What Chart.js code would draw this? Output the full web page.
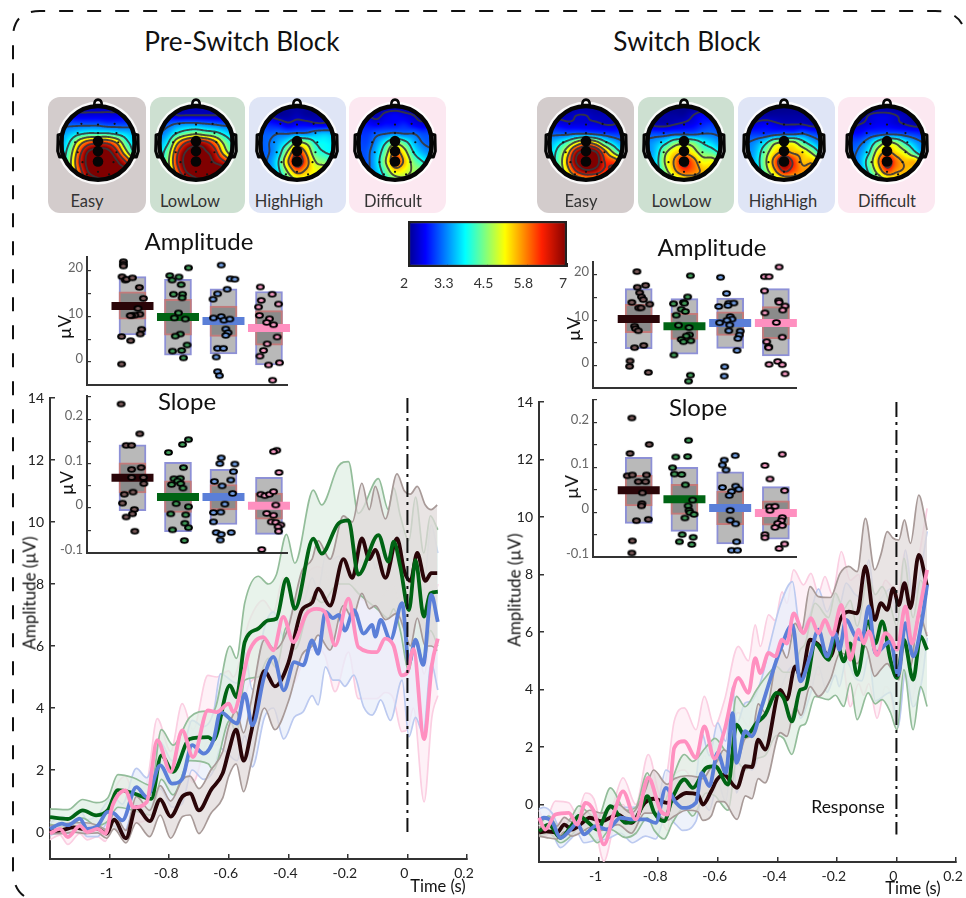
<!DOCTYPE html>
<html><head><meta charset="utf-8">
<script src="https://cdn.jsdelivr.net/npm/chart.js@4"></script>
<style>
html,body{margin:0;padding:0;background:#fff;width:966px;height:898px;overflow:hidden;font-family:Lato,"Noto Sans",sans-serif}
#page{position:relative;width:966px;height:898px;overflow:hidden}
canvas{position:absolute;pointer-events:none}
.t{position:absolute;white-space:nowrap;color:#111;transform:translate(-50%,-50%)}
.p{position:absolute;border-radius:12px}
svg{position:absolute;left:0;top:0}
</style></head><body><div id="page">
<svg width="966" height="898"><path d="M 24 896 Q 13 888 13 870 L 13 38 Q 13 11 40 11 L 935 11 Q 955 11 962 24" fill="none" stroke="#111" stroke-width="2" stroke-dasharray="14 14"/></svg>
</div>
<script>
// ---------- condition names and colours ----------
const conditions=['Easy','LowLow','HighHigh','Difficult'];
const meanColors=['#2a0508','#006414','#5b7fd8','#ff90c0'];
const boundColors=['#a89a98','#93bd9a','#bccaf0','#fbcfe2'];
const bandColors=['rgba(224,218,218,.72)','rgba(222,238,227,.7)','rgba(232,237,250,.75)','rgba(253,236,244,.75)'];
const dotColors=['#7a5a5a','#3f9a58','#6f9ce0','#f59ac2'];
const panelColors=['#d3cccc','#cde0d1','#dfe5f6','#fce8f1'];
// ---------- axis ticks ----------
const timeTicks=[-1.2,-1,-0.8,-0.6,-0.4,-0.2,0,0.2];
const timeLabels=['','-1','-0.8','-0.6','-0.4','-0.2','0','0.2'];
const ampTicks=[14,12,10,8,6,4,2,0];
const insetAmpTicks=[20,15,10,5,0];
const insetAmpLabels=['20','','10','','0'];
const insetSlopeTicks=[0.25,0.2,0.15,0.1,0.05,0,-0.05,-0.1];
const insetSlopeLabels=['','0.2','','0.1','','0','','-0.1'];
const colorTicks=[2,3.25,4.5,5.75,7];
const colorLabels=['2','3.3','4.5','5.8','7'];
const jetStops=[[2,'#00008b'],[2.55,'#0000ff'],[3.8,'#00ffff'],[5.05,'#ffff00'],[6.2,'#ff2000'],[7,'#7f0000']];
// ---------- ERP traces: [time, mean, upper, lower] ----------
const easyLeft=[[-1.2,.03,.2,-.05],[-1.16,.06,.25,-.05],[-1.12,.15,.3,0],[-1.08,.08,.3,-.05],[-1.04,.1,.22,-.03],[-1.01,-.05,.08,-.2],[-.985,.4,.6,.1],[-.945,-.2,.05,-.35],[-.91,.8,1.15,.3],[-.865,.35,.7,-.15],[-.83,1.05,1.5,.55],[-.795,.5,1,-.2],[-.755,1.15,1.7,.5],[-.73,1.25,1.8,.55],[-.7,.7,1.4,-.05],[-.66,1.35,2,.6],[-.62,1.9,2.6,1.1],[-.6,2.6,3.4,1.8],[-.575,3.3,3.9,2.2],[-.55,2.3,3.2,1.3],[-.525,3.2,4.2,2.2],[-.48,5.2,6.2,4],[-.445,4.7,5.9,3.3],[-.4,5.45,6.6,4.2],[-.355,7.15,8.4,5.7],[-.32,7.4,8.8,6],[-.3,7.85,9.4,6.35],[-.26,7.3,8.8,5.87],[-.215,8.8,10.2,7.3],[-.185,8.2,10,6.9],[-.153,9.47,11.25,7.7],[-.128,8.8,10.4,7.2],[-.108,9.1,11.15,7.3],[-.074,8.2,10.1,6.85],[-.035,9.47,11.55,7.05],[-.01,8.4,11,6.5],[.01,8.1,10.9,6],[.033,9,11.15,6.9],[.06,8.1,10.55,6],[.08,8.35,10.4,6],[.1,8.35,10.55,5.85]];
const lowLeft=[[-1.2,.48,.75,.25],[-1.14,.42,.72,.15],[-1.09,.7,1.05,.45],[-1.045,.54,.95,.2],[-1.006,.7,1.1,.35],[-.972,1.35,1.85,.8],[-.92,1.25,1.75,.7],[-.86,1.07,1.5,.55],[-.826,2.47,3.3,1.7],[-.787,1.94,2.8,1.2],[-.731,3,3.7,2.3],[-.669,3.06,3.9,2.2],[-.652,2.96,3.9,2],[-.596,4.73,6,3.6],[-.574,4.35,5.6,3.2],[-.546,6.13,7.4,4.9],[-.501,6.56,8.25,5],[-.467,6.83,8,5.6],[-.44,6.88,8.3,5.3],[-.406,8.17,9.6,6.6],[-.378,7.2,8.67,5.9],[-.316,9.46,11.03,7.6],[-.288,8.98,10.55,7.4],[-.232,9.95,11.8,8],[-.198,10.05,11.95,8],[-.165,8.3,10.28,7.7],[-.0975,9.58,11.4,7.16],[-.064,8.72,10.4,6.9],[-.046,9.37,11.1,7.2],[-.024,8.56,10.2,6.5],[.005,7.16,9.4,5.2],[.027,8.77,10.8,6.25],[.055,6.95,9,5.44],[.077,7.7,10.2,6.5],[.102,7.75,9.75,6]];
const highLeft=[[-1.2,.1,.3,-.1],[-1.16,.27,.5,0],[-1.14,.22,.45,-.05],[-1.1,.43,.7,.1],[-1.075,.1,.4,-.15],[-1.04,.2,.55,-.15],[-1.006,.65,1,.3],[-.985,.6,1.1,.2],[-.957,.38,.9,-.1],[-.91,1.45,2.05,.9],[-.875,1.13,1.75,.6],[-.83,2.15,2.9,1.4],[-.79,1.56,2.3,.8],[-.757,1.7,2.5,.9],[-.723,2.8,3.6,2],[-.684,2.53,3.4,1.7],[-.65,3,3.9,2],[-.628,3.87,5.1,2.7],[-.572,3.5,4.8,2.3],[-.546,4.46,5.8,3.1],[-.521,3.44,4.6,2.1],[-.48,5.05,6.6,3.7],[-.45,5.65,7.1,4],[-.415,4.57,6.3,3],[-.38,5.48,7.3,3.7],[-.35,5.38,7.4,3.88],[-.32,6.18,8.2,4.4],[-.3,5.75,7.8,4.1],[-.275,7.1,8.9,5.33],[-.25,6.9,8.8,4.9],[-.23,7,8.9,4.9],[-.21,6.5,8.4,4.7],[-.18,7.16,8.9,5.06],[-.147,6.4,8.7,4.04],[-.118,6.68,8.9,3.77],[-.108,6.3,8.5,3.9],[-.09,6.84,9,4.26],[-.057,6.2,8.6,3.6],[-.018,7.38,9.74,4.9],[.005,5.44,8,3.07],[.027,6.2,8.6,3.7],[.053,5.39,7.8,3.18],[.08,7.65,9.9,5.44],[.102,6.78,9,4.58]];
const diffLeft=[[-1.2,-.05,.15,-.25],[-1.167,.1,.3,-.1],[-1.14,-.16,.05,-.4],[-1.1,.2,.45,-.05],[-1.075,0,.25,-.25],[-1.04,.1,.4,-.15],[-1.014,-.05,.3,-.3],[-.99,.86,1.2,.5],[-.947,1.34,1.8,.85],[-.92,.8,1.3,.3],[-.875,.97,1.6,.4],[-.84,2.96,3.66,2.2],[-.795,1.94,2.6,1.3],[-.756,3.28,4.14,2.4],[-.72,2.42,3.3,1.6],[-.67,3.92,5.05,2.9],[-.64,3.87,5,2.8],[-.6,4.14,5.2,3.1],[-.585,3.87,5,2.8],[-.53,5.86,6.84,4.8],[-.484,6.29,7.47,5],[-.45,5.86,7.1,4.6],[-.417,6.94,8.2,5.6],[-.383,6.13,7.5,4.8],[-.339,7.04,8.3,5.8],[-.305,7.2,8.55,5.9],[-.277,7.1,8.4,5.7],[-.243,6.02,7.6,4.53],[-.198,7.53,8.9,5.8],[-.165,5.97,7.6,4.3],[-.103,5.8,7.4,4.3],[-.075,6.24,7.7,4.5],[-.047,6.02,7.96,4.3],[-.019,5.05,6.9,3.24],[0,5.16,7,3.3],[.02,5.9,7.6,4],[.056,3,5.1,.97],[.082,5.38,7,3.7],[.102,6.24,8,4.4]];
const easyRight=[[-1.2,-.98,-.8,-1.1],[-1.175,-.93,-.7,-1.15],[-1.14,-.98,-.75,-1.2],[-1.115,-.7,-.45,-.95],[-1.09,-.87,-.6,-1.1],[-1.055,-.64,-.4,-.95],[-1.03,-.46,-.2,-.8],[-.99,-.58,-.3,-.9],[-.935,-.35,0,-.7],[-.89,-.64,-.3,-1],[-.845,.06,.45,-.3],[-.815,.2,1.2,-.3],[-.77,.06,.7,-.55],[-.745,.17,.9,-.4],[-.705,.4,1,-.2],[-.667,.35,.95,-.25],[-.65,0,.9,-.55],[-.622,.46,1.3,-.4],[-.602,.87,1.5,.1],[-.58,1.04,1.9,.1],[-.535,.58,1.5,-.52],[-.507,1.33,2.3,.3],[-.485,1.3,2.4,.2],[-.464,2.26,3.5,.9],[-.441,1.91,3.2,.75],[-.39,3.99,5.5,2.5],[-.368,3.65,5.1,2.37],[-.34,4.8,6.3,3.4],[-.32,4.4,6,3.1],[-.29,5.73,7.58,4.1],[-.262,5.56,7.23,3.76],[-.222,5.15,7.2,4.34],[-.189,6.42,8.04,5.27],[-.16,6.71,8.28,5.15],[-.132,6.65,8.1,4.9],[-.104,8.28,9.95,5.5],[-.073,6.42,8.16,4.46],[-.052,7,8.7,4.7],[-.031,6.77,9.49,4.9],[-.011,7.52,9.26,4.6],[.008,6.94,9.2,4.34],[.027,7.7,9.9,5.5],[.047,6.83,9.08,4.8],[.075,8.68,10.76,6.65],[.103,7.58,9.55,5.85]];
const lowRight=[[-1.2,-.93,-.7,-1.1],[-1.167,-.7,-.4,-1],[-1.128,-1.16,-.9,-1.33],[-1.089,-.7,-.4,-1.05],[-1.066,-.4,-.05,-.8],[-1.033,-.64,-.3,-1],[-1.004,-.87,-.5,-1.33],[-.96,-.06,.58,-.87],[-.909,-.64,-.2,-1.15],[-.875,-.52,-.1,-1],[-.836,.29,1.1,-.46],[-.813,-.29,.4,-.9],[-.78,-.58,.1,-1.2],[-.752,.23,.9,-.64],[-.712,.87,1.74,-.1],[-.684,.58,1.5,-.4],[-.639,1.27,2,.4],[-.609,1.33,2.3,.3],[-.565,.69,1.8,-.2],[-.537,2.78,3.76,1.5],[-.508,2.37,3.4,1.2],[-.469,2.84,4,1.6],[-.441,3.12,4.4,1.7],[-.402,3.88,4.8,2.4],[-.379,3.7,4.6,2.3],[-.351,2.89,4.6,1.74],[-.323,3.99,5.38,2.72],[-.306,4.05,5.6,2.8],[-.273,5.6,7,3.76],[-.228,5.03,6.5,3.65],[-.205,5.85,7.35,3.8],[-.177,4.98,6.8,3.41],[-.155,5.6,7.1,4.22],[-.132,4.5,6.2,2.95],[-.095,6.37,7.9,3.88],[-.071,5.6,7.3,3.5],[-.048,6.37,7.58,3.65],[-.02,5.03,6.9,3.2],[.002,4.4,6.2,2.6],[.025,5.73,8.56,4.69],[.056,4.34,6.5,2.6],[.081,5.85,7.8,4.1],[.103,5.38,7.3,3.41]];
const highRight=[[-1.2,-.55,-.15,-.9],[-1.184,-.46,-.1,-.85],[-1.156,-.6,-.3,-1],[-1.128,-1.16,-.85,-1.5],[-1.094,-.87,-.55,-1.2],[-1.072,-.65,-.35,-1],[-1.049,-1.04,-.7,-1.33],[-1.01,-.75,-.35,-1.25],[-.971,-.87,-.45,-1.2],[-.926,-.46,-.1,-1],[-.886,-.52,-.1,-1.33],[-.842,-.52,-.05,-1.1],[-.808,-.64,-.15,-1.2],[-.774,.58,1.2,-.4],[-.74,.06,.9,-.7],[-.718,-.12,.75,-.9],[-.673,.06,.95,-.58],[-.654,1.1,2.5,.1],[-.628,.64,1.7,-.2],[-.6,1.8,2.84,.75],[-.573,1.1,2.2,.1],[-.55,3.18,4.1,1.9],[-.537,1.45,2.8,.4],[-.508,2.55,3.53,1.4],[-.486,2.37,3.6,1.2],[-.452,3.41,4.4,2.1],[-.424,4.34,5.6,3],[-.39,5.38,6.94,4],[-.349,6.25,7.75,4.8],[-.323,4.28,6.1,3],[-.29,5.15,6.6,3.8],[-.262,6.08,7.5,4.8],[-.233,5.15,6.7,3.9],[-.205,5.96,7.3,4.5],[-.192,5.38,6.9,4.1],[-.169,6.42,7.7,5],[-.138,5.85,7.3,4.4],[-.116,5.73,7.2,4.3],[-.093,6.89,8.5,5.2],[-.071,5.27,7,3.6],[-.02,5.67,7.5,3.9],[.006,4.51,6.4,2.7],[.03,6.31,8.85,4.6],[.056,5.15,7.2,3.4],[.086,6.42,8.4,4.34],[.103,7.64,9.5,5.8]];
const diffRight=[[-1.2,-.46,-.2,-.7],[-1.179,-.87,-.55,-1.1],[-1.145,-.35,.12,-.7],[-1.1,-.29,.06,-.6],[-1.072,-.7,-.35,-1.05],[-1.044,.06,.4,-.35],[-1.016,-.23,.2,-.6],[-.982,-1.39,-.98,-1.97],[-.948,-.29,.1,-.7],[-.918,.46,.93,0],[-.875,-.52,0,-1.04],[-.833,.93,1.74,.4],[-.791,-.23,.29,-.52],[-.769,-.35,1.16,-.9],[-.746,1.97,2.9,1],[-.712,2.2,3.36,1.2],[-.673,1.62,2.6,.7],[-.645,2.72,3.76,1.7],[-.611,1.6,2.72,.6],[-.578,2.55,3.6,1.4],[-.531,4.4,5.5,3.2],[-.497,3.88,5,2.7],[-.474,5.09,6.25,3.9],[-.457,4.57,5.5,3.4],[-.429,5.27,6.6,4],[-.407,5.15,6.4,3.9],[-.384,5.73,7.4,4.2],[-.368,5.6,7,4.2],[-.345,6.65,8.16,5.1],[-.312,5.96,7.64,4.3],[-.287,6.48,8.04,4.9],[-.262,5.96,7.35,4.5],[-.24,6.42,7.93,4.9],[-.215,5.9,7.3,4.4],[-.185,6.94,8.8,5.2],[-.155,5.03,7.8,3.4],[-.127,6.08,8,4.2],[-.11,5.6,7.4,3.8],[-.093,6.02,7.8,4.2],[-.065,5.2,7,3],[-.037,5.96,7.8,4.1],[-.018,5.79,7.6,3.8],[.002,5.38,7.2,2.6],[.03,6.89,8.85,4.6],[.052,5.6,7.4,3.7],[.075,6.65,8.6,4.8],[.103,8.16,10.3,6]];
// ---------- inset boxes ----------
const ampLeftOuter=[[5.93,18.75],[1.5,18.2],[1.8,16.1],[-.66,15.5]];
const ampLeftInner=[[9.4,15.4],[5.9,13.8],[5.6,12.3],[3.7,11.3]];
const ampLeftMean=[12.3,9.9,9,7.5];
const slopeLeftOuter=[[-.006,.142],[-.053,.103],[-.037,.087],[-.059,.069]];
const slopeLeftInner=[[.034,.102],[-.01,.061],[-.004,.053],[-.025,.034]];
const slopeLeftMean=[.068,.025,.025,.005];
const ampRightOuter=[[3.8,16.9],[2.6,14.7],[3.85,14.8],[2.2,16.9]];
const ampRightInner=[[7.3,13.45],[5.8,11.5],[6.7,11.85],[5.96,12.95]];
const ampRightMean=[10.25,8.7,9.4,9.4];
const slopeRightOuter=[[-.025,.122],[-.043,.1],[-.071,.09],[-.06,.057]];
const slopeRightInner=[[.014,.082],[-.005,.062],[-.028,.047],[-.029,.025]];
const slopeRightMean=[.049,.029,.009,-.002];
// ---------- inset subject dots: [jittered position, value] ----------
const ampLeftDots=[
[[.8,22.05],[.8,21.5],[.8,21.1],[.77,18.75],[.84,18],[.87,18.2],[1,18.5],[1.15,16.4],[1.24,14],[1.12,11.8],[1.16,10.5],[1.05,10.3],[.98,10.2],[.95,10.2],[1.2,7.2],[1.17,6.15],[.76,5.6],[.96,4.7],[.76,-.45]],
[[1.82,19],[2.02,18.7],[1.87,18],[2.23,20.7],[2.07,17],[1.9,14.9],[2.1,14.9],[2.09,14.1],[2.01,10.8],[1.92,9.7],[2.16,9.45],[2.05,6.15],[1.94,5.7],[2.2,3.75],[1.88,2.4],[2.08,2.55],[2.12,.9]],
[[2.95,21.3],[3.15,18.3],[3.25,18.2],[3.08,16],[2.87,15],[2.77,13.8],[2.78,9.7],[2.95,10],[3.01,9.2],[3.14,9.45],[3.05,7.25],[3.1,6.45],[3.05,5.85],[2.87,3],[3,3],[2.84,1.1],[2.87,-2.1],[2.91,-3]],
[[3.81,16.5],[4.07,14.9],[3.83,13.55],[4.21,12.75],[3.77,12.1],[3.79,10.25],[4.01,9.5],[3.95,8.7],[4.1,8.2],[4.18,5.5],[3.96,4],[3.88,2.55],[3.8,1.3],[3.99,-.65],[4.23,-.15],[4.08,-4]]];
const slopeLeftDots=[
[[.75,.234],[1.16,.167],[.86,.141],[.98,.141],[1.19,.091],[.98,.087],[.98,.069],[1.24,.069],[1.25,.055],[1.01,.036],[.82,.031],[.78,.011],[1.04,-.003],[1,-.013],[.86,-.02],[1.05,-.052]],
[[1.79,.125],[2.23,.154],[2.1,.143],[2.12,.091],[1.91,.066],[2.05,.067],[1.99,.061],[1.86,.053],[2.06,.055],[2.11,.045],[1.96,.01],[2.23,.003],[1.84,-.013],[2.17,-.015],[2.15,-.034],[2.23,-.044],[1.88,-.049],[2.14,-.073]],
[[2.95,.113],[2.92,.1],[3.25,.099],[3.22,.082],[3.16,.063],[2.8,.06],[2.97,.05],[3.2,.033],[3.03,.009],[2.78,-.01],[2.94,-.009],[2.78,-.031],[2.84,-.055],[2.95,-.059],[2.93,-.072],[3.17,-.055]],
[[4.17,.13],[4.1,.127],[4.22,.08],[3.82,.031],[3.91,.028],[4.01,.031],[4.1,.037],[4.15,.007],[3.95,-.012],[4.1,-.016],[4.05,-.031],[4.15,-.032],[4.26,-.038],[4.2,-.042],[4.21,-.052],[3.84,-.093]]];
const ampRightDots=[
[[.96,20.6],[1.15,17.6],[.97,17.2],[1.02,16],[1.06,15.1],[1.1,14.5],[.85,13.9],[1.24,13.5],[1,12.7],[1.05,12.7],[.91,8.7],[.93,8.15],[.99,7.7],[1.11,4.5],[.91,4],[.81,1.1],[.8,-.07],[1.21,-1.4]],
[[2.13,19.7],[2.07,15.1],[1.76,13.6],[1.98,13.9],[2,13.7],[1.93,12.4],[2.02,11.9],[1.82,11.1],[1.87,8.9],[2.1,8.4],[2.11,6.8],[2.04,6.55],[1.93,5.8],[1.98,5.3],[2.14,5.5],[1.77,2.4],[2.13,-2],[2.09,-3.3]],
[[2.79,19.35],[2.92,15.85],[2.75,13],[2.97,13.7],[3.08,13.75],[2.95,13.2],[3,10.8],[3.04,10.25],[2.93,10],[2.77,9.45],[2.99,8.95],[2.97,7.7],[3.22,7.6],[3.2,6.75],[3.17,6],[3.15,3.4],[2.88,-.15],[2.87,-2.2]],
[[4.07,21.6],[3.75,19.5],[3.85,19.5],[3.75,16.4],[4.06,14.25],[4.07,13.9],[4.2,13.1],[4.15,12.2],[3.76,11.6],[4.01,9.5],[3.8,5.3],[4.14,6.3],[3.84,4.2],[3.84,4],[3.85,.36],[4.04,1],[4.14,.3],[4.2,-1.7]]];
const slopeRightDots=[
[[.85,.21],[1.23,.151],[.81,.131],[.75,.081],[.86,.083],[1.17,.083],[.99,.068],[1.15,.068],[1.08,.043],[1.07,.019],[1.06,.014],[.95,-.019],[1.21,-.016],[.86,-.064],[.85,-.091]],
[[2.09,.16],[1.81,.123],[2.07,.124],[1.74,.099],[1.78,.085],[1.94,.084],[2.02,.061],[2.18,.027],[2.08,.014],[2.1,.004],[2.12,-.001],[2.21,-.005],[2.01,-.013],[1.95,-.05],[2.19,-.056],[1.89,-.066],[2.16,-.072]],
[[3.11,.126],[2.87,.116],[2.83,.105],[2.91,.094],[2.83,.055],[3.12,.058],[3.19,.051],[3.03,.046],[2.98,.037],[3,.004],[3,-.018],[3.12,-.026],[3.14,-.066],[3.03,-.085],[3.16,-.085]],
[[3.76,.104],[4.14,.129],[3.87,.074],[4.19,.048],[3.86,.012],[3.98,.013],[3.87,.004],[4.14,-.012],[4.12,-.019],[4.04,-.025],[4.14,-.03],[3.98,-.034],[3.76,-.05],[3.76,-.057],[4.19,-.071],[4.07,-.081]]];
// ---------- scalp maps: coarse value grids, rows from front (top) to back ----------
const topoEasyLeft=[[2.2,2.2,2.2,2.2,2.2,2.2,2.2,2.2,2.2],[2.6,2.5,2.4,2.4,2.4,2.4,2.4,2.5,2.6],[3,3,3,3,3,2.9,2.9,2.9,3],[3.3,3.5,3.8,4,4,4,3.8,3.6,3.4],[3.4,4,5.2,6,6.2,6.2,5.5,4.2,3.6],[3.5,4.4,6,7.2,7.5,7.4,6.5,5,3.8],[3.6,4.6,6.3,7.4,7.8,7.6,7.2,6.3,5],[3.6,4.5,6,7.2,7.6,7.5,7.3,7.2,6],[3.5,4.2,5.5,6.6,7,7,7,6.5,5.5]];
const topoLowLeft=[[2.2,2.2,2.2,2.2,2.2,2.2,2.2,2.2,2.2],[2.6,2.5,2.3,2.3,2.3,2.3,2.3,2.3,2.4],[2.9,3,3.2,3.3,3.3,3.2,3.1,3,3],[3.1,3.4,4,4.4,4.6,4.4,4.2,3.8,3.5],[3.4,3.9,5.4,6.4,6.8,6.6,5.8,4.6,3.9],[3.6,4.4,6.2,7.2,7.4,7.2,6.6,5.2,4.2],[3.6,4.6,6.4,7.4,7.6,7.6,7,6.4,5.5],[3.6,4.4,6,7.2,7.6,7.8,7.8,7.4,6.4],[3.5,4.1,5.2,6.4,7,7,7,6.5,5.5]];
const topoHighLeft=[[2.1,2.1,2.1,2.1,2.1,2.1,2.1,2.1,2.1],[2.4,2.3,2.1,2.1,2.2,2.1,2.1,2.2,2.4],[2.8,2.7,2.6,2.4,2.5,2.5,2.4,2.4,2.6],[3,3,3.1,3.1,3.2,3.2,3.4,3.5,3.4],[3,3.1,3.4,3.9,4.8,4.6,3.9,3.8,3.7],[3,3.1,3.6,4.8,6.2,5.4,4.2,3.9,3.8],[3,3.2,3.9,5.4,6.8,5.8,4.7,4.4,4.2],[3,3.2,3.8,4.8,5.8,5.4,5,5,4.4],[2.9,3.1,3.5,4.2,4.8,4.9,4.9,4.6,4.2]];
const topoDiffLeft=[[2.1,2.1,2.1,2.1,2.1,2.1,2.1,2.1,2.1],[2.4,2.3,2.2,2.4,2.5,2.4,2.3,2.2,2.4],[2.7,2.6,2.5,2.6,2.6,2.7,2.5,2.4,2.6],[2.8,2.8,3,3.1,3.2,3.1,3.1,2.9,2.9],[2.9,2.9,3.3,3.9,4.6,4.2,3.5,3.1,3],[2.9,3,3.5,4.4,5.7,5,3.9,3.4,3.2],[2.9,3,3.6,4.7,6,5.4,4.4,3.9,3.6],[2.9,3,3.5,4.3,5.2,5,4.6,4.4,3.8],[2.9,3,3.3,3.9,4.4,4.6,4.4,4,3.5]];
const topoEasyRight=[[2.1,2.1,2.1,2.1,2.1,2.1,2.1,2.1,2.1],[2.2,2.2,2.2,2.3,2.3,2.2,2.2,2.2,2.2],[2.6,2.5,2.4,2.4,2.4,2.4,2.3,2.3,2.5],[3,3,3,3.1,3.1,3,2.9,2.8,2.8],[3.4,3.7,4.2,5,5.6,5.2,4.2,3.6,3.2],[3.6,4.1,5.2,6.8,7.4,7.2,5.8,4.6,3.8],[3.6,4.2,5.6,7.2,7.8,7.6,6.3,6,5.4],[3.5,4.1,5.2,6.4,7,6.8,6.2,6.3,5.8],[3.3,3.7,4.4,5,5.4,5.4,5.4,5.2,4.8]];
const topoLowRight=[[2,2,2,2,2,2,2,2,2],[2.1,2.1,2.1,2.1,2.1,2.3,2.5,2.4,2.4],[2.3,2.2,2.2,2.3,2.4,2.5,2.7,2.8,2.7],[2.9,2.9,2.9,3,3,3,3.1,3.1,3],[3.2,3.4,3.8,4.4,4.6,4.4,3.9,3.6,3.3],[3.2,3.6,4.6,5.2,5.4,5,4.4,4.2,3.8],[3.3,3.7,4.8,5.6,6.4,5.8,5,5,4.6],[3.2,3.6,4.5,5.4,6,5.8,5.4,5.2,4.6],[3,3.3,3.9,4.6,5,5.2,5.2,4.8,4.2]];
const topoHighRight=[[2,2,2,2,2,2,2,2,2],[2.1,2.1,2.1,2.1,2.1,2.1,2.1,2.1,2.1],[2.2,2.4,2.5,2.4,2.3,2.3,2.3,2.2,2.2],[2.8,2.8,2.8,2.9,3,3,3.1,2.9,2.8],[3.1,3.3,3.8,4.6,4.8,4.9,4.2,3.6,3.2],[3.2,3.5,4.4,5.2,5.6,5.4,5.2,4.6,3.8],[3.2,3.6,4.6,5.8,7,6.2,5.4,5.4,5],[3.2,3.5,4.4,5.4,6.4,6,5.6,5.6,5],[3,3.3,3.8,4.5,5,5.2,5.2,5,4.2]];
const topoDiffRight=[[2,2,2,2,2,2,2,2,2],[2.1,2.1,2.3,2.4,2.4,2.3,2.2,2.1,2.1],[2.2,2.3,2.4,2.5,2.5,2.4,2.3,2.2,2.2],[2.6,2.6,2.8,2.9,3,3,2.9,2.8,2.7],[2.9,3,3.4,4.2,4.8,4.6,3.9,3.4,3.1],[3,3.2,3.8,5,5.6,5.2,4.8,4,3.3],[3,3.3,4.2,5.4,6.6,5.8,5.4,5.4,4.6],[2.9,3.2,4,5,6,5.6,5.4,5,4.4],[2.8,3,3.5,4.2,4.8,5,5,4.6,3.9]];
const contourLevels=[2.3,3.1,3.9,4.7,5.5,6.3,7.1,7.9];
const electrodes=[[-.45,.52],[0,.5],[.45,.52],[-.55,.27],[0,.27],[.5,.27],[-.62,.02],[.55,.02],[-.55,-.25],[.5,-.25],[-.42,-.52],[.42,-.52],[0,-.78],[-.3,-.85],[.3,-.85]];
const midline=[[0,.05],[0,-.22],[0,-.5]];

// ---------- helpers ----------
const page=document.getElementById('page');
const FONT='Lato,"Noto Sans",sans-serif';
Chart.defaults.font.family=FONT;
Chart.defaults.animation=false;
Chart.defaults.layout.autoPadding=false;
function label(text,x,y,size,opt={}){
  const d=document.createElement('div');d.className='t';d.textContent=text;
  d.style.left=x+'px';d.style.top=y+'px';d.style.fontSize=size+'px';
  if(opt.color)d.style.color=opt.color;
  if(opt.rot)d.style.transform='translate(-50%,-50%) rotate('+opt.rot+'deg)';
  page.appendChild(d);
}
function box(left,top,right,bottom,mL,mT,mR,mB){
  const c=document.createElement('canvas');
  const W=right-left+mL+mR,H=bottom-top+mT+mB;
  c.width=W;c.height=H;c.style.width=W+'px';c.style.height=H+'px';
  c.style.left=(left-mL)+'px';c.style.top=(top-mT)+'px';
  page.appendChild(c);return c;
}
const fixedTicks=list=>s=>{s.ticks=list.map(v=>({value:v}));};
const pts=(rows,i)=>rows.map(r=>({x:r[0],y:r[i]}));
const fixW=w=>s=>{s.width=w;s.paddingLeft=s.paddingRight=s.paddingTop=s.paddingBottom=0;};
const fixH=h=>s=>{s.height=h;s.paddingLeft=s.paddingRight=s.paddingTop=s.paddingBottom=0;};

// ---------- ERP panels ----------
function erpChart(area,yMin,series,vline){
  const [l,t,r,b]=area;
  const ds=[];
  const bandOrder=[70,80,90,100],lineOrder=[40,30,20,10];
  series.forEach((rows,i)=>{
    ds.push({data:pts(rows,2),borderColor:boundColors[i],borderWidth:1.7,pointRadius:0,cubicInterpolationMode:'monotone',fill:'+1',backgroundColor:bandColors[i],order:bandOrder[i]});
    ds.push({data:pts(rows,3),borderColor:boundColors[i],borderWidth:1.7,pointRadius:0,cubicInterpolationMode:'monotone',fill:false,order:bandOrder[i]-1});
  });
  series.forEach((rows,i)=>{
    ds.push({data:pts(rows,1),borderColor:meanColors[i],borderWidth:3.8,pointRadius:0,cubicInterpolationMode:'monotone',fill:false,order:lineOrder[i]});
  });
  ds.push({data:vline.map(v=>({x:0,y:v})),borderColor:'#111',borderWidth:2,borderDash:[15,5,3,5],pointRadius:0,fill:false,order:5});
  new Chart(box(l,t,r,b,50,12,30,40),{type:'line',data:{datasets:ds},options:{
    responsive:false,clip:false,layout:{padding:{top:12,right:30}},
    plugins:{legend:{display:false},tooltip:{enabled:false}},
    scales:{
      x:{type:'linear',min:-1.2,max:.2,afterBuildTicks:fixedTicks(timeTicks),afterFit:fixH(40),
        border:{color:'#333',width:2},grid:{drawOnChartArea:false,tickLength:-5,color:'#333',lineWidth:1.5},
        ticks:{autoSkip:false,maxRotation:0,padding:11,labelOffset:-3,color:'#222',font:{size:14},callback:(v,i)=>timeLabels[i]}},
      y:{type:'linear',min:yMin,max:14,afterBuildTicks:fixedTicks(ampTicks),afterFit:fixW(50),
        border:{color:'#333',width:2},grid:{drawOnChartArea:false,tickLength:-5,color:'#333',lineWidth:1.5},
        ticks:{autoSkip:false,padding:11,color:'#222',font:{size:14},callback:v=>String(v)}}
    }}});
}
erpChart([50,398,467,859],-.87,[easyLeft,lowLeft,highLeft,diffLeft],[14,0]);
erpChart([539,402,956,862],-2,[easyRight,lowRight,highRight,diffRight],[14,-1.04]);

// ---------- inset panels ----------
function dotSprite(color){
  const c=document.createElement('canvas');c.width=11;c.height=9;
  const g=c.getContext('2d');
  g.fillStyle='#000';g.beginPath();g.ellipse(5.5,4.5,4.4,3.2,0,0,7);g.fill();
  g.fillStyle=color;g.beginPath();g.ellipse(5.5,4.5,2.4,1.5,0,0,7);g.fill();
  return c;
}
function insetChart(area,xMax,yMin,yMax,ticks,labels,outer,inner,means,dots){
  const [l,t,r,b]=area;
  const ds=[
    {type:'bar',data:outer.map((v,i)=>({x:i+1,y:v})),backgroundColor:'#b9b9b9',borderColor:'#8d90d6',borderWidth:2,borderSkipped:false,barThickness:27,grouped:false,order:30},
    {type:'bar',data:inner.map((v,i)=>({x:i+1,y:v})),backgroundColor:'#8b8b8b',borderColor:'#c27a7a',borderWidth:2,borderSkipped:false,barThickness:27,grouped:false,order:20}
  ];
  means.forEach((m,i)=>ds.push({type:'scatter',data:[{x:i+1,y:m}],pointStyle:'line',pointRadius:21,pointBorderWidth:8,pointBorderColor:meanColors[i],order:10}));
  dots.forEach((rows,i)=>ds.push({type:'scatter',data:rows.map(p=>({x:p[0],y:p[1]})),pointStyle:dotSprite(dotColors[i]),pointRadius:3,order:5}));
  new Chart(box(l,t,r,b,40,6,10,6),{type:'bar',data:{datasets:ds},options:{
    responsive:false,clip:false,layout:{padding:{top:6,right:10}},
    plugins:{legend:{display:false},tooltip:{enabled:false}},
    scales:{
      x:{type:'linear',offset:false,min:0,max:xMax,afterFit:fixH(6),border:{color:'#333',width:2},grid:{display:false,drawTicks:false},ticks:{display:false}},
      y:{type:'linear',min:yMin,max:yMax,afterBuildTicks:fixedTicks(ticks),afterFit:fixW(40),
        border:{color:'#333',width:2},grid:{drawOnChartArea:false,tickLength:-4,color:'#333',lineWidth:1.2},
        ticks:{autoSkip:false,padding:8,labelOffset:-3,color:'#666',font:{size:13},callback:(v,i)=>labels[i]}}
    }}});
}
insetChart([87,257,287,385],4.396,-5.05,23.08,insetAmpTicks,insetAmpLabels,ampLeftOuter,ampLeftInner,ampLeftMean,ampLeftDots);
insetChart([87,396,287,553],4.396,-.101,.252,insetSlopeTicks,insetSlopeLabels,slopeLeftOuter,slopeLeftInner,slopeLeftMean,slopeLeftDots);
insetChart([593,262,796,388],4.44,-4.8,22.7,insetAmpTicks,insetAmpLabels,ampRightOuter,ampRightInner,ampRightMean,ampRightDots);
insetChart([593,400,796,557],4.44,-.1,.25,insetSlopeTicks,insetSlopeLabels,slopeRightOuter,slopeRightInner,slopeRightMean,slopeRightDots);

// ---------- colour bar ----------
function hex(h){return [parseInt(h.slice(1,3),16),parseInt(h.slice(3,5),16),parseInt(h.slice(5,7),16)];}
function jet(v){
  if(v<=jetStops[0][0])return hex(jetStops[0][1]);
  for(let i=1;i<jetStops.length;i++){
    if(v<=jetStops[i][0]){
      const a=jetStops[i-1],b=jetStops[i],f=(v-a[0])/(b[0]-a[0]),A=hex(a[1]),B=hex(b[1]);
      return [0,1,2].map(k=>A[k]+(B[k]-A[k])*f);
    }
  }
  return hex(jetStops[jetStops.length-1][1]);
}
new Chart(box(408,221,567,267,10,2,12,30),{type:'bar',data:{labels:[''],datasets:[{data:[[2,7]],
    backgroundColor:c=>{const s=c.chart.scales.x;const a=s&&s.getPixelForValue(2),b=s&&s.getPixelForValue(7);
      if(!isFinite(a)||!isFinite(b))return '#000';
      const g=c.chart.ctx.createLinearGradient(a,0,b,0);
      jetStops.forEach(p=>g.addColorStop((p[0]-2)/5,p[1]));return g;},
    borderColor:'#222',borderWidth:2.5,borderSkipped:false,barPercentage:1,categoryPercentage:1}]},
  options:{indexAxis:'y',responsive:false,layout:{padding:{top:2,right:12}},plugins:{legend:{display:false},tooltip:{enabled:false}},
    scales:{
      x:{type:'linear',min:2,max:7,afterBuildTicks:fixedTicks(colorTicks),afterFit:fixH(30),border:{display:false},
        grid:{drawOnChartArea:false,tickLength:-4,color:'#222'},
        ticks:{autoSkip:false,maxRotation:0,padding:12,labelOffset:-4,color:'#333',font:{size:14},callback:(v,i)=>colorLabels[i]}},
      y:{afterFit:fixW(10),display:true,border:{display:false},grid:{display:false,drawTicks:false},ticks:{display:false}}
    }}});

// ---------- scalp maps ----------
function sampleGrid(g,x,y){
  const gx=(x+1)/2*8,gy=(1-y)/2*8;
  const ix=Math.floor(gx),iy=Math.floor(gy),fx=gx-ix,fy=gy-iy;
  const at=(r,c)=>g[Math.max(0,Math.min(8,r))][Math.max(0,Math.min(8,c))];
  const cr=(a,b,c,d,t)=>b+.5*t*(c-a+t*(2*a-5*b+4*c-d+t*(3*(b-c)+d-a)));
  const row=[];
  for(let j=-1;j<=2;j++)row.push(cr(at(iy+j,ix-1),at(iy+j,ix),at(iy+j,ix+1),at(iy+j,ix+2),fx));
  return cr(row[0],row[1],row[2],row[3],fy);
}
const topoPlugin={id:'topo',beforeDatasetsDraw(chart,args,opts){
  const ctx=chart.ctx,xs=chart.scales.x,ys=chart.scales.y,g=opts.grid;
  const cx=xs.getPixelForValue(0),cy=ys.getPixelForValue(0),r=xs.getPixelForValue(1)-cx;
  // white rim
  ctx.save();ctx.fillStyle='rgba(255,255,255,.85)';ctx.beginPath();ctx.arc(cx,cy,r+4.6,0,7);ctx.fill();
  // field
  const n=Math.ceil(2*r)+2,tmp=document.createElement('canvas');tmp.width=tmp.height=n;
  const tg=tmp.getContext('2d'),im=tg.createImageData(n,n);
  const x0=Math.round(cx-n/2),y0=Math.round(cy-n/2);
  for(let j=0;j<n;j++)for(let i=0;i<n;i++){
    const u=xs.getValueForPixel(x0+i+.5),v=ys.getValueForPixel(y0+j+.5);
    const c=jet(sampleGrid(g,Math.max(-1,Math.min(1,u)),Math.max(-1,Math.min(1,v))));
    const o=(j*n+i)*4;im.data[o]=c[0];im.data[o+1]=c[1];im.data[o+2]=c[2];im.data[o+3]=255;
  }
  tg.putImageData(im,0,0);
  ctx.beginPath();ctx.arc(cx,cy,r,0,7);ctx.clip();
  ctx.drawImage(tmp,x0,y0);
  // contours
  const step=1.25,m=Math.ceil(2*r/step)+1,F=[];
  const px=i=>cx-r+i*step,py=j=>cy-r+j*step;
  for(let j=0;j<=m;j++){F[j]=[];for(let i=0;i<=m;i++){
    F[j][i]=sampleGrid(g,Math.max(-1,Math.min(1,xs.getValueForPixel(px(i)))),Math.max(-1,Math.min(1,ys.getValueForPixel(py(j)))));}}
  ctx.strokeStyle='rgba(55,55,60,.9)';ctx.lineWidth=1.9;ctx.lineCap='round';
  contourLevels.forEach(L=>{
    ctx.beginPath();
    for(let j=0;j<m;j++)for(let i=0;i<m;i++){
      const a=F[j][i],b=F[j][i+1],c=F[j+1][i+1],d=F[j+1][i],P=[];
      if((a<L)!==(b<L))P.push([px(i+(L-a)/(b-a)),py(j)]);
      if((b<L)!==(c<L))P.push([px(i+1),py(j+(L-b)/(c-b))]);
      if((d<L)!==(c<L))P.push([px(i+(L-d)/(c-d)),py(j+1)]);
      if((a<L)!==(d<L))P.push([px(i),py(j+(L-a)/(d-a))]);
      if(P.length>=2){ctx.moveTo(P[0][0],P[0][1]);ctx.lineTo(P[1][0],P[1][1]);}
      if(P.length===4){ctx.moveTo(P[2][0],P[2][1]);ctx.lineTo(P[3][0],P[3][1]);}
    }
    ctx.stroke();
  });
  ctx.restore();
  // head outline, nose, ears
  ctx.save();ctx.strokeStyle='#050505';ctx.lineWidth=4.4;
  ctx.beginPath();ctx.arc(cx,cy,r,0,7);ctx.stroke();
  ctx.lineWidth=2.6;ctx.beginPath();ctx.moveTo(cx-3.8,cy-r-1);ctx.quadraticCurveTo(cx-3.8,cy-r-6.5,cx,cy-r-6.5);ctx.quadraticCurveTo(cx+3.8,cy-r-6.5,cx+3.8,cy-r-1);ctx.closePath();ctx.stroke();
  ctx.lineWidth=3;ctx.lineJoin='round';
  [-1,1].forEach(s=>{ctx.beginPath();ctx.moveTo(cx+s*(r-1),cy-9);ctx.lineTo(cx+s*(r+3),cy-8);ctx.lineTo(cx+s*(r+3.4),cy+8);ctx.lineTo(cx+s*(r+1.5),cy+14);ctx.lineTo(cx+s*(r-1),cy+14);ctx.closePath();ctx.stroke();});
  ctx.restore();
}};
function topoChart(cx,cy,grid){
  new Chart(box(cx-48,cy-48,cx+48,cy+48,0,0,0,0),{type:'scatter',plugins:[topoPlugin],data:{datasets:[
      {data:electrodes.map(p=>({x:p[0],y:p[1]})),backgroundColor:'#111',borderWidth:0,pointRadius:1.1},
      {data:midline.map(p=>({x:p[0],y:p[1]})),backgroundColor:'#050505',borderWidth:0,pointRadius:5.3}
    ]},options:{responsive:false,plugins:{legend:{display:false},tooltip:{enabled:false},topo:{grid}},
      scales:{x:{display:false,min:-1.3,max:1.3},y:{display:false,min:-1.3,max:1.3}}}});
}
// ---------- panels and heads ----------
const panelBoxes=[[48,146],[150,245],[249,346],[349,446],[537,634],[638,734],[738,835],[838,935]];
const headCentres=[98,196,297,395,586,684,784,887];
const headLabelX=[87,190,289,393,581,681.5,783,887];
const headGrids=[topoEasyLeft,topoLowLeft,topoHighLeft,topoDiffLeft,topoEasyRight,topoLowRight,topoHighRight,topoDiffRight];
panelBoxes.forEach((b,i)=>{
  const d=document.createElement('div');d.className='p';
  d.style.cssText+=`left:${b[0]}px;top:97px;width:${b[1]-b[0]}px;height:116px;background:${panelColors[i%4]};`;
  page.appendChild(d);
});
headGrids.forEach((g,i)=>{topoChart(headCentres[i],143,g);label(conditions[i%4],headLabelX[i],201,16.5,{color:'#333'});});
// ---------- text ----------
label('Pre-Switch Block',242,41,26.2);
label('Switch Block',687,41,26.2);
label('Amplitude',199,240,24);
label('Amplitude',712,246,24);
label('Slope',187,400,24);
label('Slope',698,406,24);
label('µV',64,327,18,{rot:-90});
label('µV',66,483,18,{rot:-90});
label('µV',573,329,18,{rot:-90});
label('µV',571,487,18,{rot:-90});
label('Amplitude (µV)',29,593,17,{rot:-90});
label('Amplitude (µV)',514,590,17,{rot:-90});
label('Time (s)',438,886,16.5);
label('Time (s)',913,888,16.5);
label('Response',848,806,17.5);
</script></body></html>
